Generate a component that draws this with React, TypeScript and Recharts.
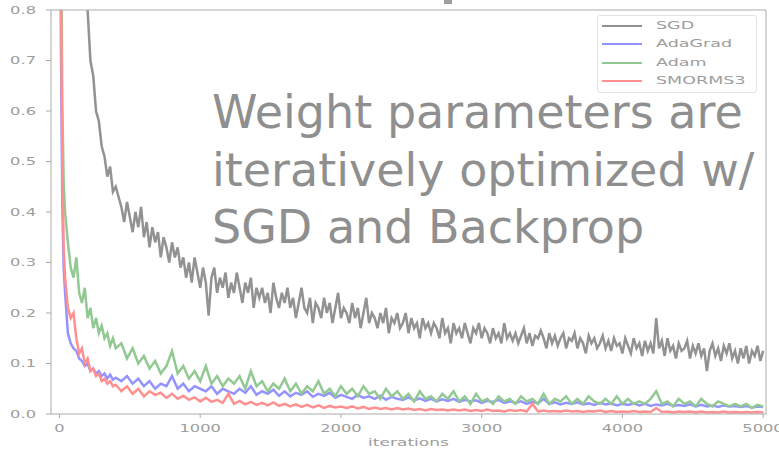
import { LineChart, Line, XAxis, YAxis, Legend } from "recharts";

// iteration index of each sample for the adaptive optimizers (denser at the start)
const iterations = [
  0, 10, 20, 30, 40, 60, 80, 100, 120, 140, 160, 180, 200, 220, 240, 260, 280, 300, 320, 340, 360, 380, 400,
  440, 480, 520, 560, 600, 640, 680, 720, 760, 800,
  840, 880, 920, 960, 1000, 1040, 1080, 1120, 1160, 1200,
  1240, 1280, 1320, 1360, 1400, 1440, 1480, 1520, 1560, 1600,
  1640, 1680, 1720, 1760, 1800, 1840, 1880, 1920, 1960, 2000,
  2040, 2080, 2120, 2160, 2200, 2240, 2280, 2320, 2360, 2400,
  2440, 2480, 2520, 2560, 2600, 2640, 2680, 2720, 2760, 2800,
  2840, 2880, 2920, 2960, 3000, 3040, 3080, 3120, 3160, 3200,
  3240, 3280, 3320, 3360, 3400, 3440, 3480, 3520, 3560, 3600,
  3640, 3680, 3720, 3760, 3800, 3840, 3880, 3920, 3960, 4000,
  4040, 4080, 4120, 4160, 4200, 4240, 4280, 4320, 4360, 4400,
  4440, 4480, 4520, 4560, 4600, 4640, 4680, 4720, 4760, 4800,
  4840, 4880, 4920, 4960, 5000,
];

// SGD is sampled more finely, its noise is the most visible
const sgdIterations = [
  0, 10, 20, 30, 40, 60, 80, 100, 120, 140, 160, 180, 200, 220, 240, 260, 280, 300, 320, 340, 360, 380, 400,
  440, 460, 480, 500, 520, 540, 560, 580, 600, 620,
  640, 660, 680, 700, 720, 740, 760, 780, 800, 820,
  840, 860, 880, 900, 920, 940, 960, 980, 1000, 1020,
  1040, 1060, 1080, 1100, 1120, 1140, 1160, 1180, 1200, 1220,
  1240, 1260, 1280, 1300, 1320, 1340, 1360, 1380, 1400, 1420,
  1440, 1460, 1480, 1500, 1520, 1540, 1560, 1580, 1600, 1620,
  1640, 1660, 1680, 1700, 1720, 1740, 1760, 1780, 1800, 1820,
  1840, 1860, 1880, 1900, 1920, 1940, 1960, 1980, 2000, 2020,
  2040, 2060, 2080, 2100, 2120, 2140, 2160, 2180, 2200, 2220,
  2240, 2260, 2280, 2300, 2320, 2340, 2360, 2380, 2400, 2420,
  2440, 2460, 2480, 2500, 2520, 2540, 2560, 2580, 2600, 2620,
  2640, 2660, 2680, 2700, 2720, 2740, 2760, 2780, 2800, 2820,
  2840, 2860, 2880, 2900, 2920, 2940, 2960, 2980, 3000, 3020,
  3040, 3060, 3080, 3100, 3120, 3140, 3160, 3180, 3200, 3220,
  3240, 3260, 3280, 3300, 3320, 3340, 3360, 3380, 3400, 3420,
  3440, 3460, 3480, 3500, 3520, 3540, 3560, 3580, 3600, 3620,
  3640, 3660, 3680, 3700, 3720, 3740, 3760, 3780, 3800, 3820,
  3840, 3860, 3880, 3900, 3920, 3940, 3960, 3980, 4000, 4020,
  4040, 4060, 4080, 4100, 4120, 4140, 4160, 4180, 4200, 4220,
  4240, 4260, 4280, 4300, 4320, 4340, 4360, 4380, 4400, 4420,
  4440, 4460, 4480, 4500, 4520, 4540, 4560, 4580, 4600, 4620,
  4640, 4660, 4680, 4700, 4720, 4740, 4760, 4780, 4800, 4820,
  4840, 4860, 4880, 4900, 4920, 4940, 4960, 4980, 5000,
];

const sgdLoss = [
  2.3, 2.2, 2.1, 2.0, 1.9, 1.7, 1.5, 1.35, 1.2, 1.08, 0.97, 0.88, 0.8, 0.7, 0.67, 0.6, 0.58, 0.53, 0.51, 0.47, 0.49, 0.44, 0.45,
  0.41, 0.38, 0.42, 0.39, 0.36, 0.4, 0.37, 0.41, 0.35, 0.38,
  0.33, 0.37, 0.34, 0.36, 0.31, 0.35, 0.33, 0.3, 0.34, 0.31,
  0.33, 0.29, 0.31, 0.27, 0.3, 0.26, 0.31, 0.28, 0.25, 0.29,
  0.26, 0.195, 0.27, 0.29, 0.24, 0.27, 0.25, 0.28, 0.23, 0.26,
  0.24, 0.28, 0.25, 0.22, 0.26, 0.24, 0.27, 0.21, 0.25, 0.23,
  0.25, 0.22, 0.24, 0.2, 0.26, 0.23, 0.21, 0.24, 0.22, 0.25,
  0.21, 0.23, 0.19, 0.22, 0.25, 0.21, 0.2, 0.23, 0.18, 0.22,
  0.21, 0.19, 0.23, 0.2, 0.22, 0.18, 0.21, 0.24, 0.19, 0.21,
  0.2, 0.18, 0.22, 0.19, 0.21, 0.17, 0.2, 0.23, 0.18, 0.2,
  0.19, 0.17, 0.2, 0.18, 0.21, 0.16, 0.19, 0.18, 0.2, 0.17,
  0.18, 0.2, 0.16, 0.19, 0.17, 0.18, 0.15, 0.19, 0.17, 0.18,
  0.16, 0.18, 0.17, 0.15, 0.19, 0.16, 0.17, 0.14, 0.18, 0.16,
  0.17, 0.15, 0.18, 0.16, 0.14, 0.17, 0.16, 0.18, 0.15, 0.17,
  0.16, 0.14, 0.17, 0.15, 0.16, 0.14, 0.18, 0.15, 0.16, 0.145,
  0.16, 0.14, 0.155, 0.17, 0.14, 0.16, 0.135, 0.155, 0.15, 0.165,
  0.15, 0.13, 0.16, 0.14, 0.155, 0.135, 0.15, 0.16, 0.13, 0.15,
  0.145, 0.16, 0.13, 0.15, 0.14, 0.12, 0.155, 0.14, 0.15, 0.13,
  0.14, 0.155, 0.13, 0.145, 0.125, 0.15, 0.135, 0.14, 0.12, 0.15,
  0.135, 0.12, 0.15, 0.13, 0.14, 0.115, 0.145, 0.125, 0.14, 0.12,
  0.19, 0.13, 0.145, 0.115, 0.15, 0.125, 0.135, 0.11, 0.14, 0.125,
  0.13, 0.145, 0.11, 0.135, 0.12, 0.14, 0.115, 0.13, 0.085, 0.125,
  0.14, 0.115, 0.13, 0.105, 0.135, 0.12, 0.14, 0.11, 0.125, 0.1,
  0.13, 0.11, 0.135, 0.1, 0.125, 0.115, 0.135, 0.105, 0.125,
];

const adagradLoss = [
  2.4, 0.75, 0.42, 0.29, 0.24, 0.16, 0.14, 0.13, 0.125, 0.11, 0.105, 0.095, 0.1, 0.085, 0.09, 0.08, 0.085, 0.075, 0.08, 0.07, 0.078, 0.068, 0.072,
  0.065, 0.075, 0.06, 0.07, 0.055, 0.065, 0.05, 0.06, 0.055, 0.075,
  0.05, 0.06, 0.045, 0.055, 0.05, 0.045, 0.055, 0.04, 0.05, 0.045,
  0.04, 0.05, 0.042, 0.055, 0.038, 0.045, 0.04, 0.048, 0.036, 0.045,
  0.035, 0.042, 0.038, 0.045, 0.034, 0.04, 0.036, 0.042, 0.032, 0.038,
  0.034, 0.03, 0.038, 0.032, 0.035, 0.03, 0.036, 0.028, 0.034, 0.03,
  0.028, 0.033, 0.027, 0.031, 0.026, 0.03, 0.025, 0.029, 0.026, 0.03,
  0.024, 0.028, 0.025, 0.027, 0.022, 0.026, 0.024, 0.028, 0.022, 0.025,
  0.022, 0.025, 0.02, 0.024, 0.021, 0.03, 0.02, 0.023, 0.019, 0.022,
  0.02, 0.023, 0.019, 0.021, 0.018, 0.022, 0.019, 0.021, 0.017, 0.02,
  0.018, 0.021, 0.017, 0.02, 0.016, 0.019, 0.017, 0.02, 0.016, 0.018,
  0.016, 0.019, 0.015, 0.018, 0.015, 0.017, 0.014, 0.017, 0.015, 0.016,
  0.014, 0.016, 0.013, 0.015, 0.014,
];

const adamLoss = [
  2.5, 1.1, 0.62, 0.46, 0.4, 0.34, 0.29, 0.27, 0.31, 0.24, 0.22, 0.25, 0.19, 0.21, 0.17, 0.19, 0.16, 0.175, 0.15, 0.16, 0.135, 0.15, 0.13,
  0.14, 0.11, 0.13, 0.1, 0.115, 0.09, 0.105, 0.08, 0.095, 0.125,
  0.08, 0.095, 0.07, 0.085, 0.065, 0.095, 0.06, 0.075, 0.055, 0.07,
  0.06, 0.075, 0.05, 0.085, 0.055, 0.065, 0.045, 0.06, 0.05, 0.07,
  0.045, 0.06, 0.04, 0.055, 0.045, 0.065, 0.04, 0.05, 0.035, 0.055,
  0.04, 0.05, 0.035, 0.055, 0.04, 0.045, 0.03, 0.05, 0.035, 0.045,
  0.03, 0.04, 0.025, 0.045, 0.03, 0.035, 0.025, 0.04, 0.03, 0.045,
  0.025, 0.035, 0.02, 0.04, 0.025, 0.03, 0.02, 0.035, 0.025, 0.03,
  0.02, 0.035, 0.025, 0.03, 0.02, 0.04, 0.02, 0.03, 0.025, 0.035,
  0.02, 0.03, 0.02, 0.035, 0.025, 0.02, 0.03, 0.02, 0.035, 0.02,
  0.03, 0.02, 0.025, 0.02, 0.03, 0.045, 0.02, 0.025, 0.015, 0.03,
  0.02, 0.025, 0.015, 0.03, 0.02, 0.015, 0.025, 0.02, 0.015, 0.02,
  0.015, 0.02, 0.012, 0.018, 0.015,
];

const smormsLoss = [
  2.5, 0.9, 0.5, 0.33, 0.27, 0.21, 0.19, 0.2, 0.15, 0.12, 0.13, 0.1, 0.11, 0.085, 0.09, 0.075, 0.08, 0.065, 0.07, 0.06, 0.065, 0.055, 0.058,
  0.045, 0.055, 0.04, 0.05, 0.035, 0.045, 0.038, 0.042, 0.032, 0.04,
  0.03, 0.036, 0.028, 0.033, 0.025, 0.032, 0.024, 0.028, 0.022, 0.04,
  0.02, 0.026, 0.019, 0.024, 0.018, 0.022, 0.017, 0.023, 0.016, 0.02,
  0.015, 0.019, 0.014, 0.018, 0.013, 0.017, 0.012, 0.016, 0.013, 0.015,
  0.012, 0.015, 0.011, 0.014, 0.01, 0.013, 0.01, 0.012, 0.009, 0.012,
  0.009, 0.011, 0.008, 0.01, 0.007, 0.01, 0.008, 0.009, 0.007, 0.009,
  0.007, 0.009, 0.006, 0.008, 0.006, 0.009, 0.006, 0.007, 0.005, 0.008,
  0.006, 0.008, 0.005, 0.02, 0.005, 0.007, 0.005, 0.006, 0.005, 0.007,
  0.005, 0.006, 0.004, 0.006, 0.005, 0.007, 0.004, 0.006, 0.004, 0.005,
  0.004, 0.006, 0.004, 0.005, 0.004, 0.012, 0.004, 0.005, 0.003, 0.005,
  0.004, 0.005, 0.003, 0.005, 0.003, 0.004, 0.003, 0.005, 0.003, 0.004,
  0.003, 0.004, 0.003, 0.004, 0.003,
];

const xTicks = [0, 1000, 2000, 3000, 4000, 5000];
const yTicks = [0, 0.1, 0.2, 0.3, 0.4, 0.5, 0.6, 0.7, 0.8];

const series = [
  { key: "sgd", name: "SGD", color: "#929292" },
  { key: "adagrad", name: "AdaGrad", color: "#9494ff" },
  { key: "adam", name: "Adam", color: "#92c992" },
  { key: "smorms3", name: "SMORMS3", color: "#ff9090" },
];

const sgdData = sgdIterations.map((it, i) => ({ it, sgd: sgdLoss[i] }));
const data = iterations.map((it, i) => ({
  it,
  adagrad: adagradLoss[i],
  adam: adamLoss[i],
  smorms3: smormsLoss[i],
}));

// the source figure was stretched sideways, so its small text is too
const STRETCH = 1.55;
const AXIS = "#ababab";
const TEXT = "#9d9d9d";
const FONT = "DejaVu Sans";

const XTick = (props: any) => {
  const { x, y, payload } = props;
  return (
    <g transform={`translate(${x},${y}) scale(${STRETCH},1)`}>
      <text x={0} y={0} dy="0.71em" textAnchor="middle" fill={TEXT} fontSize={10.5} fontFamily={FONT}>
        {payload.value}
      </text>
    </g>
  );
};

const YTick = (props: any) => {
  const { x, y, payload } = props;
  return (
    <g transform={`translate(${x},${y}) scale(${STRETCH},1)`}>
      <text x={0} y={0} dy="0.355em" textAnchor="end" fill={TEXT} fontSize={10.5} fontFamily={FONT}>
        {Number(payload.value).toFixed(1)}
      </text>
    </g>
  );
};

const XLabel = (props: any) => {
  const vb = props.viewBox || { x: 51, y: 414, width: 715 };
  return (
    <g transform={`translate(${vb.x + vb.width / 2},${vb.y + 32}) scale(${STRETCH},1)`}>
      <text x={0} y={0} textAnchor="middle" fill={TEXT} fontSize={11} fontFamily={FONT}>
        iterations
      </text>
    </g>
  );
};

const LegendBox = () => (
  <div
    style={{
      width: 160,
      height: 78,
      boxSizing: "border-box",
      border: "1px solid #e2e2e2",
      borderRadius: 3,
      background: "#fff",
      paddingTop: 1,
    }}
  >
    {series.map((s) => (
      <div key={s.key} style={{ position: "relative", height: 18.4 }}>
        <div style={{ position: "absolute", left: 4, top: 8, width: 40, height: 2, background: s.color }} />
        <div
          style={{
            position: "absolute",
            left: 58,
            top: 2,
            fontSize: 11.3,
            fontFamily: FONT,
            color: TEXT,
            lineHeight: "14px",
            whiteSpace: "nowrap",
            transform: `scaleX(${STRETCH})`,
            transformOrigin: "left center",
          }}
        >
          {s.name}
        </div>
      </div>
    ))}
  </div>
);

export default function App() {
  return (
    <div style={{ position: "absolute", left: 0, top: 0, width: 779, height: 451, background: "#fff", overflow: "hidden" }}>
      <LineChart width={779} height={451} data={data} margin={{ top: 9, right: 12, bottom: 0, left: 0 }}>
        <XAxis
          dataKey="it"
          type="number"
          domain={[-60, 5020]}
          ticks={xTicks}
          height={37}
          stroke={AXIS}
          tickSize={4}
          tickMargin={7}
          tick={<XTick />}
          label={(p: any) => <XLabel {...p} />}
        />
        <XAxis
          xAxisId="top"
          orientation="top"
          type="number"
          domain={[-60, 5020]}
          height={1}
          stroke={AXIS}
          tick={false}
          tickLine={false}
        />
        <YAxis
          type="number"
          domain={[0, 0.8]}
          ticks={yTicks}
          allowDataOverflow
          width={51}
          stroke={AXIS}
          tickSize={5}
          tickMargin={10}
          tick={<YTick />}
        />
        <YAxis
          yAxisId="right"
          orientation="right"
          type="number"
          domain={[0, 0.8]}
          width={1}
          stroke={AXIS}
          tick={false}
          tickLine={false}
        />
        <Legend
          layout="vertical"
          align="center"
          verticalAlign="middle"
          content={<LegendBox />}
          wrapperStyle={{ position: "absolute", left: 597, top: 15, width: 160 }}
        />
        <Line
          data={sgdData}
          type="linear"
          dataKey="sgd"
          name="SGD"
          stroke={series[0].color}
          strokeWidth={2.5}
          dot={false}
          activeDot={false}
          isAnimationActive={false}
        />
        {series.slice(1).map((s) => (
          <Line
            key={s.key}
            type="linear"
            dataKey={s.key}
            name={s.name}
            stroke={s.color}
            strokeWidth={2.5}
            dot={false}
            activeDot={false}
            isAnimationActive={false}
          />
        ))}
      </LineChart>
      <div
        style={{
          position: "absolute",
          left: 212,
          top: 84,
          fontSize: 46,
          lineHeight: "57.5px",
          fontFamily: FONT,
          color: "#8f8f8f",
          whiteSpace: "pre",
          pointerEvents: "none",
        }}
      >
        {"Weight parameters are\niteratively optimized w/\nSGD and Backprop"}
      </div>
      <div style={{ position: "absolute", left: 444, top: 0, width: 8, height: 4, background: "#a0a0a0" }} />
    </div>
  );
}
